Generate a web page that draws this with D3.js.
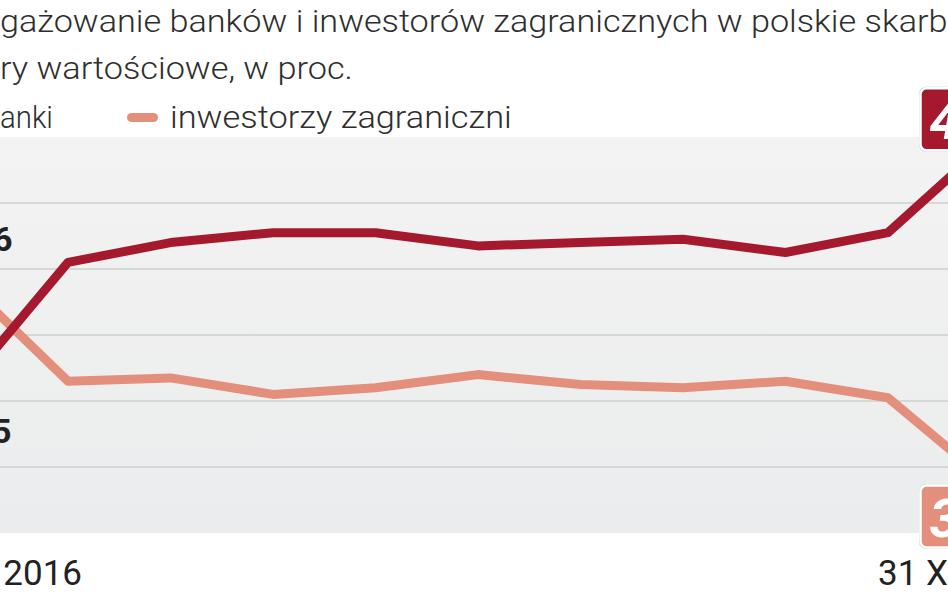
<!DOCTYPE html>
<html>
<head>
<meta charset="utf-8">
<script src="https://cdn.jsdelivr.net/npm/d3@7"></script>
<style>
  body { margin: 0; background: #fff; }
  svg { display: block; font-family: Roboto, 'Noto Sans', sans-serif; }
</style>
</head>
<body>
<div id="chart"></div>
<script>
// data (monthly, end of month)
const months = ['XII 2015', 'I 2016', 'II 2016', 'III 2016', 'IV 2016', 'V 2016', 'VI 2016', 'VII 2016', 'VIII 2016', 'IX 2016', 'X 2016']
const banks = [33.5, 37.2, 37.8, 38.1, 38.1, 37.7, 37.8, 37.9, 37.5, 38.1, 40.9]
const foreign = [36.6, 33.6, 33.7, 33.2, 33.4, 33.8, 33.5, 33.4, 33.6, 33.1, 30.5]
const gridValues = [31, 33, 35, 37, 39]
const dateLabels = ['1 I 2016', '31 X 2016']

const W = 948, H = 593
const RED = '#a5192e', SALMON = '#e38f7b'

const svg = d3.select('#chart').append('svg')
  .attr('width', W)
  .attr('height', H)

const x = d3.scaleLinear().domain([0, months.length - 1]).range([-34.5, 990.5])
const y = d3.scaleLinear().domain([29, 41]).range([533, 137])

const fmt = v => d3.format('.1f')(v).replace('.', ',')

// text squeezed so that chars [from, to) land between x0 and x1
function fitText (str, yPos, from, to, x0, x1) {
  const t = svg.append('text')
    .attr('font-size', 32)
    .attr('font-weight', 300)
    .attr('fill', '#2e2e2e')
    .text(str)
  const node = t.node()
  const pre = from > 0 ? node.getSubStringLength(0, from) : 0
  const vis = node.getSubStringLength(from, to - from)
  const s = (x1 - x0) / vis
  t.attr('transform', `translate(${x0 - pre * s},${yPos}) scale(${s},1)`)
  return t
}

// title
const t1 = 'Zaangażowanie banków i inwestorów zagranicznych w polskie skarbowe'
fitText(t1, 32, t1.indexOf('gaż'), t1.indexOf('skarb') + 5, 0, 948)
const t2 = 'papiery wartościowe, w proc.'
fitText(t2, 79, 5, t2.length, 0, 353)

// legend
fitText('banki', 128, 1, 5, 0, 53)
svg.append('rect')
  .attr('x', -60).attr('y', 113).attr('width', 31).attr('height', 9).attr('rx', 4.5)
  .attr('fill', RED)
svg.append('rect')
  .attr('x', 127).attr('y', 113).attr('width', 31).attr('height', 9).attr('rx', 4.5)
  .attr('fill', SALMON)
fitText('inwestorzy zagraniczni', 128, 0, 22, 170, 512)

// plot background + grid
const bg = svg.append('defs').append('linearGradient')
  .attr('id', 'bg').attr('x1', 0).attr('x2', 0).attr('y1', 0).attr('y2', 1)
bg.append('stop').attr('offset', '0%').attr('stop-color', '#f3f3f3')
bg.append('stop').attr('offset', '100%').attr('stop-color', '#ebeced')

svg.append('rect')
  .attr('x', 0).attr('y', y(41))
  .attr('width', W).attr('height', y(29) - y(41))
  .attr('fill', 'url(#bg)')

svg.append('g')
  .selectAll('line')
  .data(gridValues)
  .join('line')
  .attr('x1', 0).attr('x2', W)
  .attr('y1', d => y(d)).attr('y2', d => y(d))
  .attr('stroke', '#cdd0d1')
  .attr('stroke-width', 1.6)

// lines
const line = d3.line()
  .x((d, i) => x(i))
  .y(d => y(d))

const series = [
  { values: foreign, color: SALMON },
  { values: banks, color: RED }
]

svg.selectAll('path.series')
  .data(series)
  .join('path')
  .attr('class', 'series')
  .attr('d', d => line(d.values))
  .attr('fill', 'none')
  .attr('stroke', d => d.color)
  .attr('stroke-width', 9)
  .attr('stroke-linejoin', 'round')

// start values
const last = months.length - 1
svg.append('text')
  .attr('x', x(0) + 47).attr('y', y(foreign[0]) - 31)
  .attr('text-anchor', 'end')
  .attr('font-size', 34).attr('font-weight', 'bold').attr('fill', '#222')
  .text(fmt(foreign[0]))
svg.append('text')
  .attr('x', x(0) + 46).attr('y', y(banks[0]) + 58)
  .attr('text-anchor', 'end')
  .attr('font-size', 34).attr('font-weight', 'bold').attr('fill', '#222')
  .text(fmt(banks[0]))

// end value boxes
const boxes = [
  { v: banks[last], color: RED, dy: -52 },
  { v: foreign[last], color: SALMON, dy: 2 }
]
const box = svg.selectAll('g.endbox')
  .data(boxes)
  .join('g')
  .attr('class', 'endbox')
  .attr('transform', d => `translate(${x(last) - 70},${y(d.v) + d.dy})`)

box.append('rect')
  .attr('x', -1.5).attr('y', -1.5).attr('width', 143).attr('height', 65).attr('rx', 7)
  .attr('fill', '#c9c9c9')
box.append('rect')
  .attr('width', 140).attr('height', 62).attr('rx', 6)
  .attr('fill', d => d.color)
  .attr('stroke', '#fff').attr('stroke-width', 2.5)
box.append('text')
  .attr('x', 9).attr('y', 51)
  .attr('font-size', 54).attr('font-weight', 'bold').attr('font-style', 'italic')
  .attr('fill', '#fff')
  .text(d => fmt(d.v))

// date labels
svg.append('text')
  .attr('x', x(0) + 116.5).attr('y', 585)
  .attr('text-anchor', 'end')
  .attr('font-size', 35).attr('fill', '#222')
  .text(dateLabels[0])
svg.append('text')
  .attr('x', x(last) - 112.5).attr('y', 585)
  .attr('font-size', 35).attr('fill', '#222')
  .text(dateLabels[1])
</script>
</body>
</html>
